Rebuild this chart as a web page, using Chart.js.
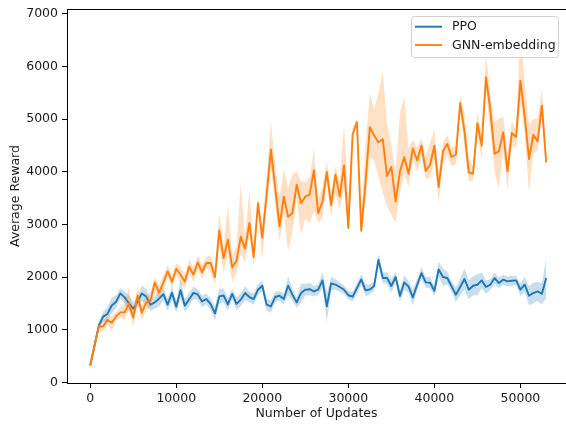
<!DOCTYPE html>
<html>
<head>
<meta charset="utf-8">
<script src="https://cdn.jsdelivr.net/npm/chart.js@4.4.1/dist/chart.umd.min.js"></script>
<style>
  html, body { margin: 0; padding: 0; background: #ffffff; overflow: hidden; }
  #wrap { position: relative; width: 566px; height: 424px; }
</style>
</head>
<body>
<div id="wrap"><canvas id="c" width="566" height="424"></canvas></div>
<script>
// ---- data ----
const updates = [
  0,500,1000,1500,2000,2500,3000,3500,4000,4500,
  5000,5500,6000,6500,7000,7500,8000,8500,9000,9500,
  10000,10500,11000,11500,12000,12500,13000,13500,14000,14500,
  15000,15500,16000,16500,17000,17500,18000,18500,19000,19500,
  20000,20500,21000,21500,22000,22500,23000,23500,24000,24500,
  25000,25500,26000,26500,27000,27500,28000,28500,29000,29500,
  30000,30500,31000,31500,32000,32500,33000,33500,34000,34500,
  35000,35500,36000,36500,37000,37500,38000,38500,39000,39500,
  40000,40500,41000,41500,42000,42500,43000,43500,44000,44500,
  45000,45500,46000,46500,47000,47500,48000,48500,49000,49500,
  50000,50500,51000,51500,52000,52500,53000
];

const ppoMean = [
  323,700,1080,1250,1300,1460,1530,1690,1615,1500,
  1400,1530,1690,1630,1475,1520,1590,1675,1475,1700,
  1437,1750,1456,1580,1700,1670,1538,1583,1485,1310,
  1633,1650,1480,1680,1490,1571,1697,1621,1583,1760,
  1836,1475,1443,1621,1646,1583,1836,1665,1519,1697,
  1760,1770,1730,1760,1937,1443,1880,1858,1811,1760,
  1655,1627,1790,1956,1747,1765,1830,2330,1982,1982,
  1830,2001,1640,1900,1817,1612,1855,2075,1899,1893,
  1737,2146,2001,1982,1823,1665,1811,1963,1760,1836,
  1855,1937,1811,1855,1982,1887,1950,1918,1930,1937,
  1760,1855,1646,1697,1728,1684,1982
];
const ppoLow = [
  313,670,1020,1150,1180,1310,1410,1590,1495,1350,
  1280,1430,1540,1480,1355,1400,1440,1555,1355,1570,
  1317,1600,1326,1460,1580,1570,1428,1483,1365,1180,
  1483,1520,1360,1580,1370,1451,1567,1521,1473,1660,
  1736,1365,1323,1521,1556,1483,1656,1545,1419,1517,
  1650,1650,1630,1660,1787,1150,1750,1758,1721,1680,
  1575,1537,1690,1856,1637,1665,1740,2230,1882,1872,
  1700,1901,1520,1760,1707,1462,1755,1955,1799,1783,
  1637,1996,1841,1862,1723,1525,1651,1763,1580,1656,
  1655,1787,1681,1755,1872,1787,1850,1828,1830,1847,
  1640,1705,1466,1497,1548,1484,1600
];
const ppoHigh = [
  333,730,1140,1350,1420,1610,1650,1790,1735,1650,
  1520,1630,1840,1780,1595,1640,1740,1795,1595,1830,
  1557,1960,1586,1700,1820,1770,1648,1683,1605,1440,
  1783,1780,1600,1780,1610,1691,1827,1721,1693,1860,
  1936,1585,1563,1721,1736,1683,2016,1785,1619,1877,
  1870,1890,1830,1860,2087,1700,2010,1958,1901,1840,
  1735,1717,1890,2056,1857,1865,1920,2430,2082,2092,
  1960,2101,1760,2040,1927,1762,1955,2195,1999,2003,
  1837,2296,2161,2102,1923,1805,1971,2163,1940,2016,
  2055,2087,1941,1955,2092,1987,2050,2008,2030,2027,
  1880,2005,1826,1897,1908,1884,2360
];

const gnnMean = [
  323,690,1063,1063,1190,1133,1253,1330,1330,1494,
  1228,1646,1323,1513,1551,1899,1703,1893,2108,1912,
  2159,2044,1912,2197,2044,2278,2089,2267,2267,2001,
  2886,2362,2709,2183,2311,2765,2540,3026,2377,3400,
  2750,3560,4418,3700,2962,3525,3146,3216,3754,3400,
  3526,3564,4030,3212,3437,3994,3368,3944,3532,4120,
  2931,4712,4940,2880,3800,4845,4687,4560,4615,3918,
  4092,3437,4005,4275,3962,4440,4218,4494,4012,4133,
  4494,3710,4387,4526,4279,4323,5304,4766,3987,3962,
  4918,4494,5792,5177,4342,4387,4748,4007,4735,4659,
  5729,5051,4241,4703,4576,5254,4177
];
const gnnLow = [
  313,660,1000,960,1100,980,1170,1230,1190,1380,
  1060,1480,1170,1380,1420,1720,1590,1760,2000,1790,
  2050,1880,1770,2090,1900,2150,1960,2170,2080,1860,
  2600,2080,2450,1900,2070,2460,2270,2800,2200,3220,
  2330,3300,4040,3400,2680,3220,2490,2840,3500,2800,
  3100,3030,3250,3030,3100,3790,3150,3600,3280,3700,
  2870,4600,4870,2770,3400,4290,4200,3900,3600,3340,
  3180,3030,3600,3950,3720,4250,4000,4300,3850,3900,
  4200,3410,4150,4300,4100,4150,5150,4450,3820,3820,
  4700,4250,5560,4740,3980,3680,4400,3650,4500,4450,
  5300,4740,3600,4350,4400,5120,3975
];
const gnnHigh = [
  333,720,1130,1160,1280,1250,1340,1430,1500,1800,
  1330,1850,1470,1660,1700,2000,1830,2040,2230,2040,
  2260,2200,2060,2330,2190,2400,2240,2380,2420,2150,
  3220,2560,3370,2420,2560,3790,2760,3640,2580,3540,
  2950,3900,4960,4100,3500,4040,3700,3940,4010,3820,
  3800,3900,4420,3500,3700,4200,3600,4100,3800,4890,
  3500,4850,5000,3100,4500,5490,5180,5500,5900,4900,
  4500,4000,5110,5430,4450,4600,4450,4650,4300,4550,
  4800,4000,4550,4700,4450,4500,5450,5100,4250,4100,
  5150,4700,6220,5500,4950,5000,5050,4350,4950,4800,
  6730,5700,4900,5000,5000,5570,4355
];

const xTicks = [0, 10000, 20000, 30000, 40000, 50000];
const yTicks = [0, 1000, 2000, 3000, 4000, 5000, 6000, 7000];
const seriesNames = ['PPO', 'GNN-embedding'];
const xTitle = 'Number of Updates';
const yTitle = 'Average Reward';

// ---- styling ----
const BLUE = '#1f77b4';
const ORANGE = '#ff7f0e';
const BLUE_BAND = 'rgba(31,119,180,0.24)';
const ORANGE_BAND = 'rgba(255,127,14,0.24)';
const FONT = 'DejaVu Sans';
const FS = 12.5;
const TXT = '#1a1a1a';

function pts(arr) { return arr.map((v, i) => ({ x: updates[i], y: v })); }

const lineBase = { pointRadius: 0, pointHoverRadius: 0, tension: 0, borderJoinStyle: 'round', borderCapStyle: 'butt' };
const bandBase = { pointRadius: 0, pointHoverRadius: 0, tension: 0, borderWidth: 0, borderColor: 'rgba(0,0,0,0)' };

const datasets = [
  Object.assign({}, lineBase, { label: seriesNames[1], data: pts(gnnMean), borderColor: ORANGE, borderWidth: 1.9, fill: false, order: 0 }),
  Object.assign({}, bandBase, { label: 'gnnHigh', data: pts(gnnHigh), backgroundColor: ORANGE_BAND, fill: '+1', order: 1 }),
  Object.assign({}, bandBase, { label: 'gnnLow', data: pts(gnnLow), fill: false, order: 2 }),
  Object.assign({}, lineBase, { label: seriesNames[0], data: pts(ppoMean), borderColor: BLUE, borderWidth: 1.9, fill: false, order: 3 }),
  Object.assign({}, bandBase, { label: 'ppoHigh', data: pts(ppoHigh), backgroundColor: BLUE_BAND, fill: '+1', order: 4 }),
  Object.assign({}, bandBase, { label: 'ppoLow', data: pts(ppoLow), fill: false, order: 5 })
];

const framePlugin = {
  id: 'frame',
  afterDraw(chart) {
    const { ctx, chartArea: a } = chart;
    ctx.save();
    ctx.strokeStyle = '#000';
    ctx.lineWidth = 1;
    const ty = Math.round(a.top) + 0.5;
    ctx.beginPath();
    ctx.moveTo(a.left, ty);
    ctx.lineTo(a.right, ty);
    ctx.stroke();

    // legend (upper right, matplotlib style)
    const bx = 411.5, by = 16.5, bw = 147, bh = 41, r = 3;
    ctx.fillStyle = 'rgba(255,255,255,0.85)';
    ctx.strokeStyle = '#d0d0d0';
    ctx.beginPath();
    ctx.moveTo(bx + r, by);
    ctx.lineTo(bx + bw - r, by);
    ctx.arcTo(bx + bw, by, bx + bw, by + r, r);
    ctx.lineTo(bx + bw, by + bh - r);
    ctx.arcTo(bx + bw, by + bh, bx + bw - r, by + bh, r);
    ctx.lineTo(bx + r, by + bh);
    ctx.arcTo(bx, by + bh, bx, by + bh - r, r);
    ctx.lineTo(bx, by + r);
    ctx.arcTo(bx, by, bx + r, by, r);
    ctx.closePath();
    ctx.fill();
    ctx.stroke();
    const rows = [
      { name: seriesNames[0], color: BLUE, y: 26.7 },
      { name: seriesNames[1], color: ORANGE, y: 45 }
    ];
    ctx.font = FS + 'px "' + FONT + '"';
    ctx.textBaseline = 'middle';
    ctx.textAlign = 'left';
    rows.forEach(rw => {
      ctx.strokeStyle = rw.color;
      ctx.lineWidth = 1.9;
      ctx.beginPath();
      ctx.moveTo(415, rw.y);
      ctx.lineTo(442, rw.y);
      ctx.stroke();
      ctx.fillStyle = TXT;
      ctx.fillText(rw.name, 452, rw.y + 0.5);
    });
    ctx.restore();
  }
};

new Chart(document.getElementById('c'), {
  type: 'line',
  data: { datasets },
  plugins: [framePlugin],
  options: {
    responsive: false,
    animation: false,
    events: [],
    layout: { padding: { top: 9, right: 0, bottom: 0, left: 0 } },
    plugins: {
      legend: { display: false },
      tooltip: { enabled: false },
      filler: { propagate: false }
    },
    scales: {
      x: {
        type: 'linear',
        min: -2700,
        max: 55300,
        afterFit(scale) { scale.height = 41; scale.paddingLeft = 0; scale.paddingRight = 0; },
        afterBuildTicks(scale) { scale.ticks = xTicks.map(v => ({ value: v })); },
        grid: { display: true, drawOnChartArea: false, drawTicks: true, tickLength: 5, color: '#000', tickColor: '#000' },
        border: { display: true, color: '#000', width: 1 },
        ticks: { color: TXT, padding: 3, maxRotation: 0, autoSkip: false, font: { family: FONT, size: FS }, callback: v => String(v) },
        title: { display: true, text: xTitle, color: TXT, font: { family: FONT, size: FS }, padding: { top: 0, bottom: 3 } }
      },
      y: {
        type: 'linear',
        min: -11,
        max: 7089,
        afterFit(scale) { scale.width = 67; scale.paddingTop = 0; scale.paddingBottom = 0; },
        afterBuildTicks(scale) { scale.ticks = yTicks.map(v => ({ value: v })); },
        grid: { display: true, drawOnChartArea: false, drawTicks: true, tickLength: 5, color: '#000', tickColor: '#000' },
        border: { display: true, color: '#000', width: 1 },
        ticks: { color: TXT, padding: 4, autoSkip: false, font: { family: FONT, size: FS }, callback: v => String(v) },
        title: { display: true, text: yTitle, color: TXT, font: { family: FONT, size: FS }, padding: { top: 8, bottom: 0 } }
      }
    }
  }
});
</script>
</body>
</html>
